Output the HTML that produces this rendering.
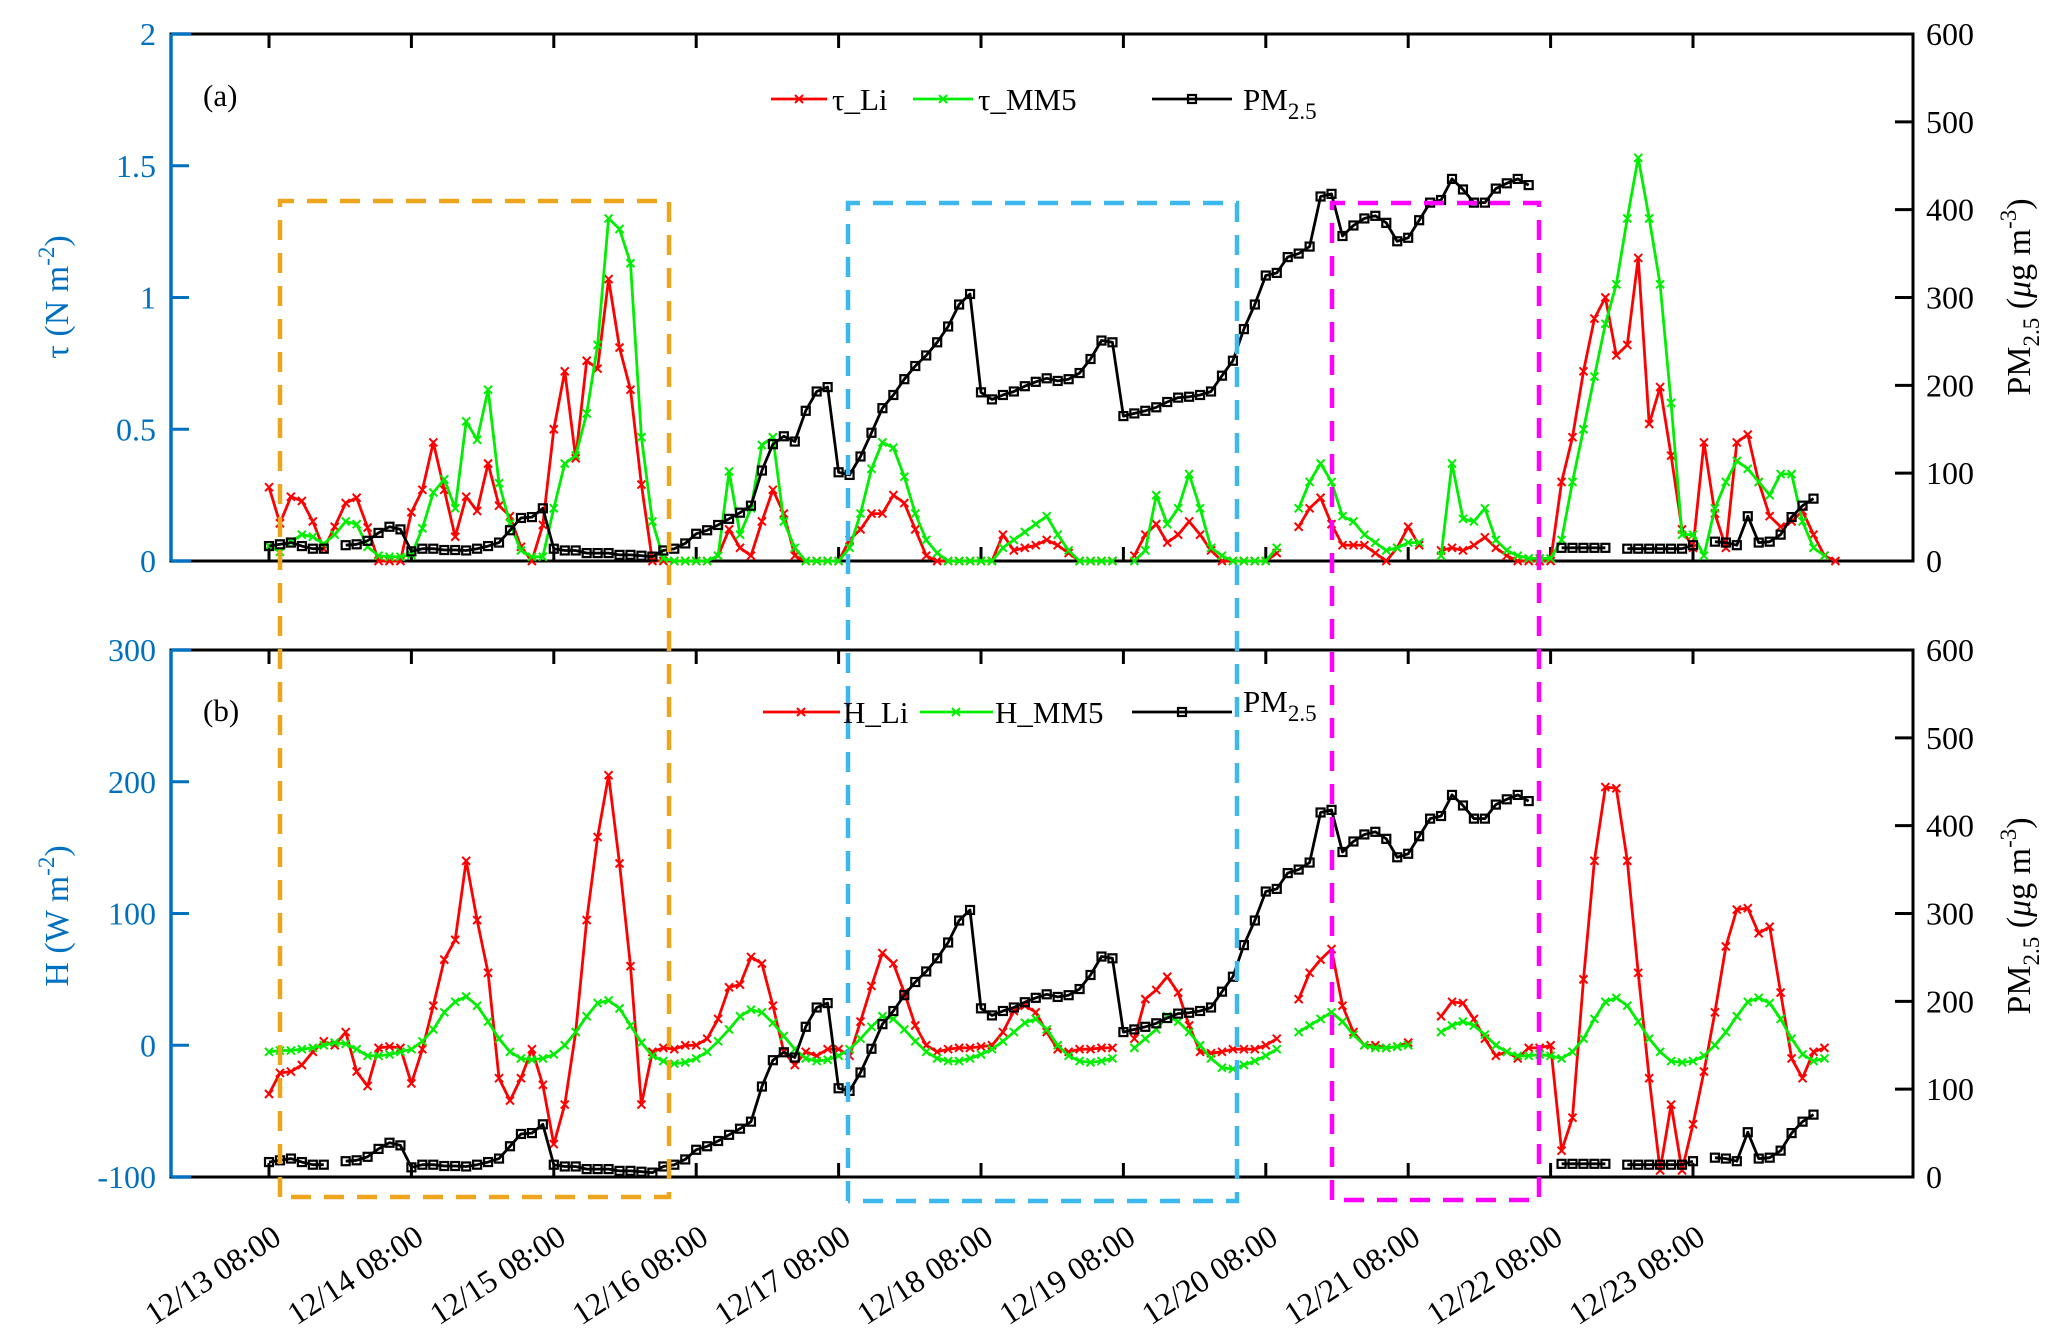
<!DOCTYPE html>
<html><head><meta charset="utf-8"><style>
html,body{margin:0;padding:0;background:#fff;}
svg{display:block;font-family:"Liberation Serif",serif;}
</style></head><body>
<svg id="chart" width="2067" height="1332" viewBox="0 0 2067 1332" xmlns="http://www.w3.org/2000/svg">
<g id="layer"></g>
</svg>
<script>
const dayLabels=["12/13 08:00","12/14 08:00","12/15 08:00","12/16 08:00","12/17 08:00","12/18 08:00","12/19 08:00","12/20 08:00","12/21 08:00","12/22 08:00","12/23 08:00"];
const tauTicks=[0,0.5,1,1.5,2];
const hTicks=[-100,0,100,200,300];
const pmTicks=[0,100,200,300,400,500,600];
const tauLi=[0.28,0.143,0.244,0.228,0.15,0.046,0.13,0.22,0.24,0.127,0,0,0,0.185,0.27,0.45,0.27,0.092,0.244,0.19,0.37,0.21,0.17,0.054,0,0.137,0.5,
0.72,0.39,0.76,0.73,1.07,0.81,0.65,0.29,0,0,
0,0,0,0,
0.02,0.12,0.05,0.02,0.15,0.27,0.18,0.02,0,0,0,0,
0.08,0.12,0.18,0.18,0.25,0.22,0.12,0.02,
0,0,0,0,0,0,
0.1,0.04,0.05,0.06,0.08,0.06,0.03,
0,0,0,0,null,
0.02,0.1,0.14,0.07,0.1,0.15,0.1,0.04,
0,0,0,0,0,0.03,null,
0.13,0.2,0.24,0.14,0.06,0.06,0.06,0.03,0,0.05,0.13,0.06,null,
0.04,0.05,0.04,0.06,0.09,0.05,0.02,0,0,0,0,0.3,
0.47,0.72,0.92,1.0,0.78,0.82,1.15,0.52,0.66,0.4,0.12,0.05,0.45,0.18,0.05,0.45,0.48,0.3,0.17,0.13,0.15,0.19,0.1,0.02,0];
const tauMM5=[0.057,0.035,0.073,0.10,0.092,0.065,0.1,0.15,0.14,0.054,0.02,0.016,0.016,0.023,0.124,0.26,0.31,0.2,0.53,0.46,0.65,0.295,0.143,0.04,0.016,0.016,0.2,
0.37,0.4,0.56,0.82,1.3,1.26,1.13,0.47,0.15,0.01,
0,0,0,0,
0.02,0.34,0.1,0.2,0.44,0.47,0.15,0.05,0,0,0,0,
0.05,0.18,0.35,0.45,0.43,0.32,0.18,0.08,
0.03,0,0,0,0,0,
0.05,0.08,0.11,0.14,0.17,0.1,0.04,
0,0,0,0,null,
0,0.04,0.25,0.14,0.2,0.33,0.2,0.05,
0.02,0,0,0,0,0.05,null,
0.2,0.3,0.37,0.3,0.17,0.15,0.1,0.07,0.04,0.05,0.07,0.07,null,
0.02,0.37,0.16,0.15,0.2,0.08,0.04,0.02,0.01,0.01,0.01,0.08,
0.3,0.5,0.7,0.9,1.05,1.3,1.53,1.3,1.05,0.6,0.1,0.1,0.02,0.2,0.3,0.38,0.35,0.3,0.25,0.33,0.33,0.15,0.05,0.02,null];
const pm25=[17,19,21,17,14,14,null,18,19,23,32,39,36,11,14,14,12.5,12.5,12,14,17,21,35,49,50,60,14,
12,12,9,9,9,7,7,6,5,12,14,20,
31,35,41,48,55,63,103,133,142,136,
171,193,198,101,98,119,146,174,189,207,
222,234,249,267,292,304,192,184,189,193,
199,204,208,205,207,214,230,251,249,165,
168,171,175,181,186,187,189,193,211,228,
264,292,325,328,346,350,358,415,418,370,
382,390,393,385,364,368,388,408,411,435,
423,408,408,424,430,435,428,null,null,
15,15,15,15,15,null,14,14,14,14,14,14,18,null,
22,21,18,51,21,22,30,50,63,71,null];
const hLi=[-37,-21,-20,-15,-5,3,0,10,-20,-31,-2,-1,-2,
-29,-3,30,65,80,140,95,55,-25,-42,-25,-3,-30,
-75,-45,10,95,158,205,138,60,-45,-5,-2,
-3,0,0,5,20,44,46,67,62,30,-5,-15,-5,-8,-3,-3,
-8,18,45,70,62,40,15,0,-5,-3,-2,-2,-1,0,
10,26,30,25,10,-3,-5,-3,-3,-2,-2,null,
5,35,42,52,40,15,-5,-6,-5,-3,-3,-3,0,5,null,
35,55,65,73,30,10,0,0,-2,-1,2,null,null,
22,33,32,20,5,-8,-5,-10,-2,-2,0,
-80,-55,50,140,196,195,140,55,-25,-95,-45,-95,-60,-20,25,75,103,104,85,90,40,-10,-25,-5,-2,null];
const hMM5=[-5,-4,-4,-3,-2,0,2,1,-3,-8,-8,-7,-5,
-3,3,12,25,33,37,30,18,5,-5,-10,-11,-10,
-7,0,10,22,32,34,28,15,2,-8,-12,
-14,-13,-10,-5,3,12,22,27,25,17,7,-3,-10,-12,-11,-8,
-3,5,14,22,20,12,3,-5,-10,-12,-12,-10,-7,-3,
3,10,17,20,12,0,-8,-12,-13,-12,-10,null,
-2,5,12,22,18,10,0,-10,-17,-18,-15,-12,-8,-3,null,
10,15,20,25,18,8,0,-2,-2,-1,0,null,null,
10,15,18,15,8,0,-5,-8,-8,-7,-8,
-10,-5,5,20,33,36,30,18,5,-5,-12,-13,-12,-8,0,10,22,33,36,32,20,5,-7,-12,-10,null];

const NS="http://www.w3.org/2000/svg";
const layer=document.getElementById('layer');
const X0=171,X1=1913,DAY0=269,DAYW=142.4,PER_DAY=13;
const A={top:34,bot:561},B={top:650,bot:1177};
const BLUE="#0070C0";
function xs(i){return DAY0+i*DAYW/PER_DAY;}
function xDay(d){return DAY0+d*DAYW;}
function yTau(v){return A.bot-v/2*(A.bot-A.top);}
function yPmA(p){return A.bot-p/600*(A.bot-A.top);}
function yH(h){return B.bot-(h+100)/400*(B.bot-B.top);}
function yPmB(p){return B.bot-p/600*(B.bot-B.top);}
function mk(tag,attrs,parent){const e=document.createElementNS(NS,tag);for(const k in attrs)e.setAttribute(k,attrs[k]);(parent||layer).appendChild(e);return e;}
function txt(s,x,y,opts,parent){const t=mk('text',Object.assign({x:x,y:y},opts||{}),parent);t.textContent=s;return t;}

function series(vals,yf,color,marker,name){
  const g=mk('g',{});
  
  
  let d="",pen=false;
  vals.forEach((v,i)=>{if(v===null){pen=false;return;}d+=(pen?"L":"M")+xs(i).toFixed(1)+" "+yf(v).toFixed(1)+" ";pen=true;});
  mk('path',{d:d,fill:'none',stroke:color,'stroke-width':2.8,'stroke-linejoin':'round'},g);
  vals.forEach((v,i)=>{if(v===null)return;const x=xs(i),y=yf(v);
    if(marker==='x'){mk('path',{d:`M${x-4} ${y-4}L${x+4} ${y+4}M${x-4} ${y+4}L${x+4} ${y-4}`,stroke:color,'stroke-width':2},g);}
    else{mk('rect',{x:x-4,y:y-4,width:8,height:8,fill:'none',stroke:color,'stroke-width':2.2},g);}
  });
}

function panel(P,leftTicks,leftFmt,leftScale,rightScale,pname){
  const g=mk('g',{});
  
  
  mk('rect',{x:X0,y:P.top,width:X1-X0,height:P.bot-P.top,fill:'none',stroke:'#000','stroke-width':3},g);
  mk('line',{x1:X0,y1:P.top,x2:X0,y2:P.bot,stroke:BLUE,'stroke-width':3.5},g);
  mk('line',{x1:X0,y1:P.top,x2:X0+20,y2:P.top,stroke:BLUE,'stroke-width':3.5},g);
  mk('line',{x1:X0,y1:P.bot,x2:X0+20,y2:P.bot,stroke:BLUE,'stroke-width':3.5},g);
  for(let d=0;d<dayLabels.length;d++){const x=xDay(d);
    mk('line',{x1:x,y1:P.top,x2:x,y2:P.top+14,stroke:'#000','stroke-width':3},g);
    mk('line',{x1:x,y1:P.bot,x2:x,y2:P.bot-14,stroke:'#000','stroke-width':3},g);}
  leftTicks.forEach(v=>{const y=leftScale(v);
    mk('line',{x1:X0,y1:y,x2:X0+18,y2:y,stroke:BLUE,'stroke-width':3},g);
    const t=txt(leftFmt(v),156,y+11,{'text-anchor':'end','font-size':32,fill:BLUE},g);
    
    });
  pmTicks.forEach(v=>{const y=rightScale(v);
    mk('line',{x1:X1,y1:y,x2:X1-18,y2:y,stroke:'#000','stroke-width':3},g);
    const t=txt(String(v),1926,y+11,{'font-size':32,fill:'#000'},g);
    
    });
}
panel(A,tauTicks,v=>String(v),yTau,yPmA,'panel-a');
panel(B,hTicks,v=>String(v),yH,yPmB,'panel-b');

dayLabels.forEach((s,d)=>{const x=xDay(d)+14,y=1242;
  const t=txt(s,x,y,{'text-anchor':'end','font-size':32,transform:`rotate(-33 ${x} ${y})`});
  
  });

series(tauLi,yTau,'#FF0000','x','tau-li-line');
series(tauMM5,yTau,'#00EE00','x','tau-mm5-line');
series(pm25,yPmA,'#000','s','pm25-line-a');
series(hLi,yH,'#FF0000','x','h-li-line');
series(hMM5,yH,'#00EE00','x','h-mm5-line');
series(pm25,yPmB,'#000','s','pm25-line-b');

function dbox(x1,x2,y1,y2,color,name){
  const r=mk('path',{d:`M${x1} ${y2}L${x1} ${y1}L${x2} ${y1}L${x2} ${y2}L${x1} ${y2}`,fill:'none',stroke:color,'stroke-width':4.5,'stroke-dasharray':'20 13'});
  
  
}
dbox(280,669,201,1197,'#EDA51C','orange-highlight-box');
dbox(848,1237,203,1201,'#3DB8EE','blue-highlight-box');
dbox(1332,1539,203,1200,'#FF00FF','magenta-highlight-box');
</script>
<svg style="position:absolute;left:0;top:0" width="2067" height="1332">
<g font-family="Liberation Serif, serif">
<text x="203" y="106" font-size="31">(a)</text>
<text x="203" y="721" font-size="31">(b)</text>
<g>
<line x1="771" y1="99" x2="827" y2="99" stroke="#FF0000" stroke-width="2.8"/><path d="M795 95L803 103M795 103L803 95" stroke="#FF0000" stroke-width="2"/>
<text x="832" y="110" font-size="31">τ_Li</text>
<line x1="913" y1="99" x2="973" y2="99" stroke="#00EE00" stroke-width="2.8"/><path d="M939 95L947 103M939 103L947 95" stroke="#00EE00" stroke-width="2"/>
<text x="978" y="110" font-size="31">τ_MM5</text>
<line x1="1152" y1="99" x2="1232" y2="99" stroke="#000" stroke-width="2.8"/><rect x="1188" y="95" width="8" height="8" fill="none" stroke="#000" stroke-width="2.2"/>
<text x="1243" y="110" font-size="31">PM<tspan font-size="23" dy="9">2.5</tspan></text>
</g>
<g>
<line x1="763" y1="712" x2="840" y2="712" stroke="#FF0000" stroke-width="2.8"/><path d="M797 708L805 716M797 716L805 708" stroke="#FF0000" stroke-width="2"/>
<text x="843" y="723" font-size="31">H_Li</text>
<line x1="920" y1="712" x2="993" y2="712" stroke="#00EE00" stroke-width="2.8"/><path d="M952 708L960 716M952 716L960 708" stroke="#00EE00" stroke-width="2"/>
<text x="995" y="723" font-size="31">H_MM5</text>
<line x1="1132" y1="712" x2="1232" y2="712" stroke="#000" stroke-width="2.8"/><rect x="1178" y="708" width="8" height="8" fill="none" stroke="#000" stroke-width="2.2"/>
<text x="1243" y="712" font-size="31">PM<tspan font-size="23" dy="9">2.5</tspan></text>
</g>
<text transform="translate(68 297) rotate(-90)" text-anchor="middle" font-size="34" fill="#0070C0">τ (N m<tspan font-size="23" dy="-14">-2</tspan><tspan dy="14">)</tspan></text>
<text transform="translate(68 916) rotate(-90)" text-anchor="middle" font-size="34" fill="#0070C0">H (W m<tspan font-size="23" dy="-14">-2</tspan><tspan dy="14">)</tspan></text>
<text transform="translate(2030 297) rotate(-90)" text-anchor="middle" font-size="34">PM<tspan font-size="23" dy="9">2.5</tspan><tspan dy="-9"> (</tspan><tspan font-style="italic">μ</tspan>g m<tspan font-size="23" dy="-14">-3</tspan><tspan dy="14">)</tspan></text>
<text transform="translate(2030 916) rotate(-90)" text-anchor="middle" font-size="34">PM<tspan font-size="23" dy="9">2.5</tspan><tspan dy="-9"> (</tspan><tspan font-style="italic">μ</tspan>g m<tspan font-size="23" dy="-14">-3</tspan><tspan dy="14">)</tspan></text>
</g>
</svg>
</body></html>
